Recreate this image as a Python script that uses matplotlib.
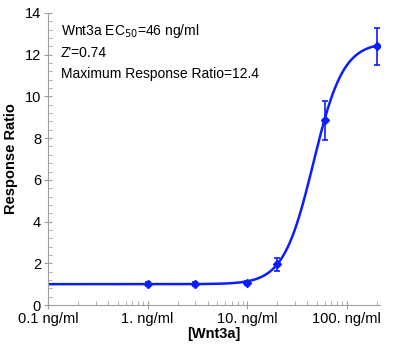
import numpy as np
import matplotlib
matplotlib.use("Agg")
import matplotlib.pyplot as plt
from matplotlib.ticker import MultipleLocator, LogLocator, NullFormatter

plt.rcParams['font.family'] = ['Liberation Sans', 'DejaVu Sans']

# measured points
conc = [1, 3, 10, 20, 60, 200]
resp = [1.0, 1.0, 1.05, 1.95, 8.85, 12.4]
err = [0.08, 0.08, 0.1, 0.3, 0.95, 0.9]

# 4PL fit parameters
bottom = 1.0
top = 12.6
ec50 = 46
hill = 2.9

xticks = [0.1, 1, 10, 100]
xticklabels = ["0.1 ng/ml", "1. ng/ml", "10. ng/ml", "100. ng/ml"]

blue = "#0a1eff"
gray = "#a0a0a0"

fig = plt.figure(figsize=(4, 3.51), dpi=100)
ax = fig.add_axes([0.12, 0.131, 0.83, 0.832])

xs = np.logspace(-1, np.log10(200), 400)
ys = bottom + (top - bottom) / (1 + (ec50 / xs) ** hill)
ax.plot(xs, ys, color=blue, lw=1.8)
ax.errorbar(conc, resp, yerr=err, fmt="D", color=blue, ms=4, capsize=2.5,
            elinewidth=1.2, capthick=1.2)

ax.set_xscale("log")
ax.set_xlim(0.1, 215)
ax.set_ylim(0, 14)
ax.set_xticks(xticks)
ax.set_xticklabels(xticklabels)
ax.xaxis.set_minor_locator(LogLocator(base=10, subs=np.arange(2, 10)))
ax.xaxis.set_minor_formatter(NullFormatter())
ax.yaxis.set_major_locator(MultipleLocator(2))
ax.yaxis.set_minor_locator(MultipleLocator(0.4))

for s in ["top", "right"]:
    ax.spines[s].set_visible(False)
for s in ["left", "bottom"]:
    ax.spines[s].set_color(gray)
    ax.spines[s].set_linewidth(0.8)

ax.tick_params(which="major", direction="inout", length=6, color=gray, labelsize=10.5, pad=2)
ax.tick_params(which="minor", direction="in", length=3, color=gray)

ax.set_xlabel("[Wnt3a]", fontsize=10.5, fontweight="bold", labelpad=1)
ax.set_ylabel("Response Ratio", fontsize=10.5, fontweight="bold", labelpad=5)

ax.text(0.135, 12.95, "Wnt3a EC$_{50}$=46 ng/ml", fontsize=10)
ax.text(0.135, 11.9, "Z'=0.74", fontsize=10)
ax.text(0.135, 10.9, "Maximum Response Ratio=12.4", fontsize=10)

fig.savefig("out.png", dpi=100)
